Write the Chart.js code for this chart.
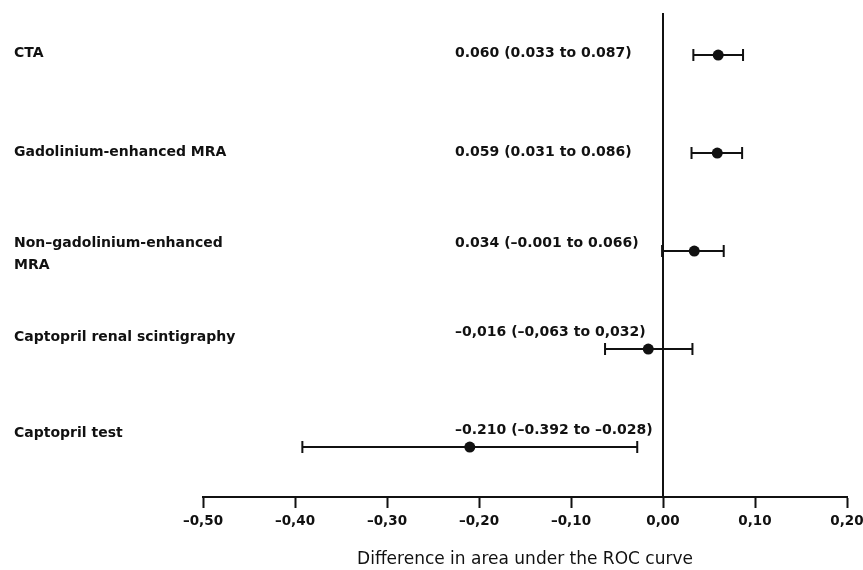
<!DOCTYPE html>
<html>
<head>
<meta charset="utf-8">
<script src="https://cdn.jsdelivr.net/npm/chart.js@4.4.1/dist/chart.umd.min.js"></script>
<style>
  html, body { margin: 0; padding: 0; background: #fff; }
  #wrap { width: 863px; height: 570px; }
</style>
</head>
<body>
<div id="wrap"><canvas id="c" width="863" height="570"></canvas></div>
<script>
// ---- data ----
const categories = [
  "CTA",
  "Gadolinium-enhanced MRA",
  "Non–gadolinium-enhanced\nMRA",
  "Captopril renal scintigraphy",
  "Captopril test"
];
const estimates = [0.060, 0.059, 0.034, -0.016, -0.210];
const lowerCI   = [0.033, 0.031, -0.001, -0.063, -0.392];
const upperCI   = [0.087, 0.086, 0.066, 0.032, -0.028];
const ciLabels = [
  "0.060 (0.033 to 0.087)",
  "0.059 (0.031 to 0.086)",
  "0.034 (–0.001 to 0.066)",
  "–0,016 (–0,063 to 0,032)",
  "–0.210 (–0.392 to –0.028)"
];
const tickValues = [-0.5, -0.4, -0.3, -0.2, -0.1, 0.0, 0.1, 0.2];
const tickLabels = ["–0,50", "–0,40", "–0,30", "–0,20", "–0,10", "0,00", "0,10", "0,20"];
const axisTitle = "Difference in area under the ROC curve";

// ---- style ----
const INK = "#111";
const labelFont = "bold 14px 'DejaVu Sans'";
const labelDy = [-2, -1, -8, -12, -14];   // text offset from row centre (px)
const ciDy    = [-2, -1, -8, -17, -17];
const labelX = 14, ciX = 455, lineGap = 22;

const forestPlugin = {
  id: "forest",
  beforeDatasetsDraw(chart) {
    const {ctx, chartArea, scales: {x, y}} = chart;
    ctx.save();
    ctx.strokeStyle = INK;
    ctx.lineWidth = 2;
    // reference line at zero
    const x0 = Math.round(x.getPixelForValue(0));
    ctx.beginPath();
    ctx.moveTo(x0, chartArea.top);
    ctx.lineTo(x0, chartArea.bottom);
    ctx.stroke();
    // confidence intervals
    estimates.forEach((v, i) => {
      const py = y.getPixelForValue(i);
      const a = x.getPixelForValue(lowerCI[i]);
      const b = x.getPixelForValue(upperCI[i]);
      ctx.beginPath();
      ctx.moveTo(a, py); ctx.lineTo(b, py);
      ctx.moveTo(a, py - 6); ctx.lineTo(a, py + 6);
      ctx.moveTo(b, py - 6); ctx.lineTo(b, py + 6);
      ctx.stroke();
    });
    ctx.restore();
  },
  afterDraw(chart) {
    const {ctx, scales: {y}} = chart;
    ctx.save();
    ctx.fillStyle = INK;
    ctx.font = labelFont;
    ctx.textBaseline = "middle";
    ctx.textAlign = "left";
    categories.forEach((lab, i) => {
      const py = y.getPixelForValue(i);
      lab.split("\n").forEach((line, k) => {
        ctx.fillText(line, labelX, py + labelDy[i] + k * lineGap);
      });
      ctx.fillText(ciLabels[i], ciX, py + ciDy[i]);
    });
    ctx.restore();
  }
};

new Chart(document.getElementById("c"), {
  type: "scatter",
  data: {
    datasets: [{
      data: estimates.map((v, i) => ({x: v, y: i})),
      backgroundColor: INK,
      borderColor: INK,
      pointRadius: 5.5,
      pointHoverRadius: 5.5,
      borderWidth: 0
    }]
  },
  options: {
    responsive: false,
    animation: false,
    events: [],
    layout: { padding: { left: 203, right: 16, top: 13, bottom: 0 } },
    plugins: { legend: { display: false }, tooltip: { enabled: false } },
    scales: {
      x: {
        type: "linear",
        min: -0.5, max: 0.2,
        afterBuildTicks: (s) => { s.ticks = tickValues.map(v => ({value: v})); },
        afterFit: (s) => { s.height = 73; s.paddingLeft = 0; s.paddingRight = 0; },
        ticks: {
          callback: (v, i) => tickLabels[i],
          color: INK,
          font: { family: "DejaVu Sans", size: 13.5, weight: "bold" },
          padding: 5,
          maxRotation: 0,
          autoSkip: false
        },
        grid: {
          drawOnChartArea: false,
          drawTicks: true,
          tickLength: 11,
          tickColor: INK,
          tickWidth: 2
        },
        border: { display: true, color: INK, width: 2 },
        title: {
          display: true,
          text: axisTitle,
          color: INK,
          font: { family: "DejaVu Sans", size: 17, weight: "normal" },
          padding: { top: 0, bottom: 0 }
        }
      },
      y: {
        type: "linear",
        display: false,
        reverse: true,
        min: -0.429,
        max: 4.51
      }
    }
  },
  plugins: [forestPlugin]
});
</script>
</body>
</html>
